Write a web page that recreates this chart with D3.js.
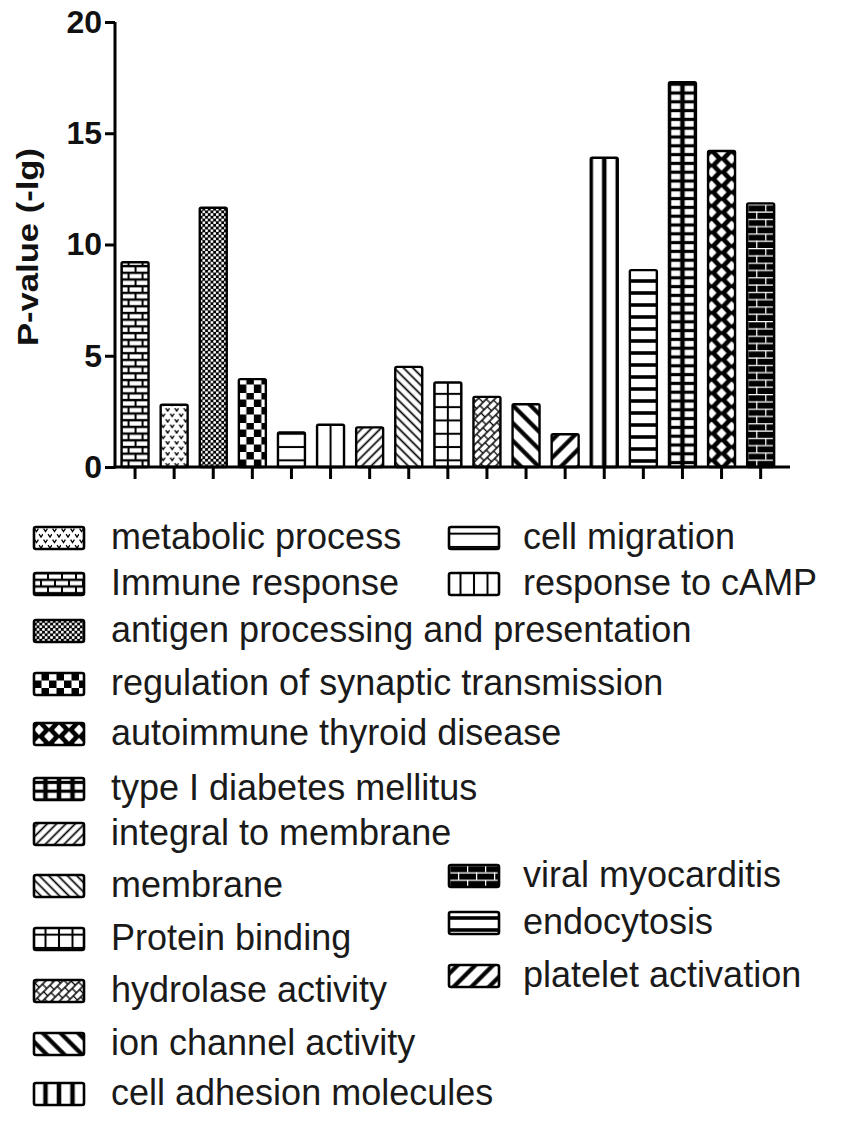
<!DOCTYPE html>
<html><head><meta charset="utf-8">
<script src="https://cdn.jsdelivr.net/npm/d3@7"></script>
<style>body{margin:0;background:#fff}svg{display:block}</style>
</head><body><svg id="c" width="856" height="1123"></svg>
<script>
// ---- data ----
const categories = ["Immune response","metabolic process","antigen processing and presentation","regulation of synaptic transmission","cell migration","response to cAMP","integral to membrane","membrane","Protein binding","hydrolase activity","ion channel activity","platelet activation","cell adhesion molecules","endocytosis","type I diabetes mellitus","autoimmune thyroid disease","viral myocarditis"];
const values = [9.2,2.8,11.65,3.95,1.55,1.9,1.78,4.5,3.8,3.15,2.82,1.47,13.9,8.85,17.3,14.2,11.85];
const yTicks = [0,5,10,15,20];
const legendLeft = ["metabolic process","Immune response","antigen processing and presentation","regulation of synaptic transmission","autoimmune thyroid disease","type I diabetes mellitus","integral to membrane","membrane","Protein binding","hydrolase activity","ion channel activity","cell adhesion molecules"];
const legendRight = ["cell migration","response to cAMP","viral myocarditis","endocytosis","platelet activation"];
const yLabel = "P-value (-lg)";

// ---- styles (pattern per category) ----
const patternOf = {
  "Immune response":"brick","metabolic process":"wave","antigen processing and presentation":"dots",
  "regulation of synaptic transmission":"checker","cell migration":"hlines","response to cAMP":"vlines",
  "integral to membrane":"diagThin","membrane":"diagThinBack","Protein binding":"grid",
  "hydrolase activity":"hydro","ion channel activity":"diagThickBack","platelet activation":"diagThick",
  "cell adhesion molecules":"vthick","endocytosis":"hthick","type I diabetes mellitus":"gridThick",
  "autoimmune thyroid disease":"diamonds","viral myocarditis":"brickDark"
};
// layout
const legendLeftCY = [538,584,631,684,734,789,834,886,939,991,1044,1094];
const legendRightCY = [538,584,876,923,976];

const svg = d3.select("#c");
svg.append("rect").attr("width",856).attr("height",1123).attr("fill","#fff");
const defs = svg.append("defs");
const FONT = "'Liberation Sans', Arial, Helvetica, sans-serif";

function makePattern(id, kind, ox, oy, cx){
  let w=10,h=10,tr=`translate(${ox},${oy})`;
  switch(kind){
    case "wave": w=9;h=11;break;
    case "brick": w=14;h=13.4;break;
    case "dots": w=5.4;h=5.4;break;
    case "checker": w=15;h=15;break;
    case "hlines": w=10;h=13.3;break;
    case "vlines": w=13.5;h=10;tr=`translate(${cx-6.75},${oy})`;break;
    case "diagThin": w=6.6;h=10;tr=`translate(${ox},${oy}) rotate(45)`;break;
    case "diagThinBack": w=6.6;h=10;tr=`translate(${ox},${oy}) rotate(-45)`;break;
    case "grid": w=13.5;h=13.3;tr=`translate(${cx-6.75},${oy})`;break;
    case "hydro": w=12;h=9;tr=`translate(${ox},${oy}) rotate(45)`;break;
    case "diagThickBack": w=12.5;h=10;tr=`translate(${ox},${oy}) rotate(-45)`;break;
    case "diagThick": w=12.5;h=10;tr=`translate(${ox},${oy}) rotate(45)`;break;
    case "vthick": w=13.5;h=10;tr=`translate(${cx-6.75},${oy})`;break;
    case "hthick": w=10;h=12;break;
    case "gridThick": w=13.5;h=8.8;tr=`translate(${cx-6.75},${oy})`;break;
    case "diamonds": w=20;h=13.4;tr=`translate(${cx-10},${oy})`;break;
    case "brickDark": w=18;h=14.6;break;
  }
  const p = defs.append("pattern").attr("id",id).attr("patternUnits","userSpaceOnUse")
    .attr("width",w).attr("height",h).attr("patternTransform",tr);
  const bg = (c)=>p.append("rect").attr("width",w).attr("height",h).attr("fill",c);
  const line=(x1,y1,x2,y2,sw,c="#000")=>p.append("line").attr("x1",x1).attr("y1",y1).attr("x2",x2).attr("y2",y2).attr("stroke",c).attr("stroke-width",sw);
  switch(kind){
    case "wave":
      bg("#fff");
      p.append("path").attr("d","M0.6,1.6 L2.5,4.6 L4.4,1.6 M5.1,7.1 L7,10.1 L8.9,7.1").attr("fill","none").attr("stroke","#000").attr("stroke-width",1.3);
      break;
    case "brick":
      bg("#000");
      p.append("rect").attr("x",1).attr("y",1.3).attr("width",12).attr("height",4.3).attr("fill","#fff");
      p.append("rect").attr("x",-6).attr("y",8).attr("width",12).attr("height",4.3).attr("fill","#fff");
      p.append("rect").attr("x",8).attr("y",8).attr("width",12).attr("height",4.3).attr("fill","#fff");
      break;
    case "dots":
      bg("#000");
      p.append("circle").attr("cx",1.35).attr("cy",1.35).attr("r",1.45).attr("fill","#fff");
      p.append("circle").attr("cx",4.05).attr("cy",4.05).attr("r",1.45).attr("fill","#fff");
      break;
    case "checker":
      bg("#fff");
      p.append("rect").attr("x",7.5).attr("y",0).attr("width",7.5).attr("height",7.5).attr("fill","#000");
      p.append("rect").attr("x",0).attr("y",7.5).attr("width",7.5).attr("height",7.5).attr("fill","#000");
      break;
    case "hlines": bg("#fff"); line(0,h/2,w,h/2,2); break;
    case "vlines": bg("#fff"); line(w/2,0,w/2,h,2); break;
    case "diagThin": case "diagThinBack": bg("#fff"); line(w/2,0,w/2,h,1.7); break;
    case "grid": bg("#fff"); line(0,h/2,w,h/2,2); line(w/2,0,w/2,h,2); break;
    case "hydro":
      bg("#fff"); line(3,0,3,h,1.5); line(9,0,9,h,1.5);
      line(3,1.5,9,1.5,1.3); line(9,6,12,6,1.3); line(0,6,3,6,1.3);
      break;
    case "diagThickBack": case "diagThick": bg("#fff"); line(w/2,0,w/2,h,4.2); break;
    case "vthick": bg("#fff"); line(w/2,0,w/2,h,4.5); break;
    case "hthick": bg("#fff"); line(0,h/2,w,h/2,3.6); break;
    case "gridThick": bg("#fff"); line(0,h/2,w,h/2,3.2); line(w/2,0,w/2,h,4.5); break;
    case "diamonds": {
      bg("#000");
      const d=(x,y)=>p.append("path").attr("d",`M${x-5},${y} L${x},${y-5.2} L${x+5},${y} L${x},${y+5.2} Z`).attr("fill","#fff");
      d(10,6.7); d(0,0); d(20,0); d(0,13.4); d(20,13.4);
      break;
    }
    case "brickDark":
      bg("#000");
      line(0,0.6,w,0.6,1.3,"#fff"); line(0,7.9,w,7.9,1.3,"#fff");
      line(0.6,0,0.6,7.3,1.3,"#fff"); line(9.6,7.3,9.6,14.6,1.3,"#fff");
      break;
  }
}

// ---- scales ----
const y = d3.scaleLinear().domain([0,20]).range([467,22]);
const x = d3.scaleBand().domain(categories).range([115.5,780.2]).paddingInner(0.31).paddingOuter(0.155);

// bars
const bars = categories.map((c,i)=>({c,v:values[i],i}));
bars.forEach(d=>{
  makePattern("bar"+d.i, patternOf[d.c], x(d.c), y(0), x(d.c)+x.bandwidth()/2);
});
svg.append("g").selectAll("rect").data(bars).join("rect")
  .attr("x",d=>x(d.c)).attr("y",d=>y(d.v))
  .attr("width",x.bandwidth()).attr("height",d=>y(0)-y(d.v))
  .attr("rx",1.5)
  .attr("fill",d=>`url(#bar${d.i})`).attr("stroke","#000").attr("stroke-width",2.4);

// y axis
const yAxis = svg.append("g").attr("transform","translate(115,0)")
  .call(d3.axisLeft(y).tickValues(yTicks).tickSize(10).tickSizeOuter(0).tickPadding(3));
yAxis.select(".domain").attr("stroke-width",3).attr("d","M0,22V468.5");
yAxis.selectAll(".tick line").attr("stroke-width",3);
yAxis.selectAll(".tick text").attr("font-family",FONT).attr("font-weight","bold").attr("font-size",32).attr("fill","#111");

// x axis
const xAxis = svg.append("g").attr("transform",`translate(0,${y(0)})`)
  .call(d3.axisBottom(x).tickSize(12).tickSizeOuter(0).tickFormat(""));
xAxis.select(".domain").attr("stroke-width",3).attr("d","M113.5,0H790");
xAxis.selectAll(".tick line").attr("stroke-width",3);

// y label
svg.append("text").attr("transform","translate(38,247) rotate(-90)")
  .attr("text-anchor","middle").attr("font-family",FONT).attr("font-weight","bold")
  .attr("font-size",30).attr("textLength",198).attr("lengthAdjust","spacingAndGlyphs")
  .attr("fill","#111").text(yLabel);

// legend
function legendItem(name, symX, textX, cy, k){
  const sw=50, sh=22, sx=symX, sy=cy-sh/2;
  makePattern("leg"+k, patternOf[name], sx, sy, sx+sw/2);
  svg.append("rect").attr("x",sx).attr("y",sy).attr("width",sw).attr("height",sh).attr("rx",2)
    .attr("fill",`url(#leg${k})`).attr("stroke","#000").attr("stroke-width",2.6);
  svg.append("text").attr("x",textX).attr("y",cy+11).attr("font-family",FONT)
    .attr("font-size",36).attr("fill","#1a1a1a").text(name);
}
legendLeft.forEach((n,i)=>legendItem(n,34,111,legendLeftCY[i],"L"+i));
legendRight.forEach((n,i)=>legendItem(n,449,523,legendRightCY[i],"R"+i));
</script>
</body></html>
